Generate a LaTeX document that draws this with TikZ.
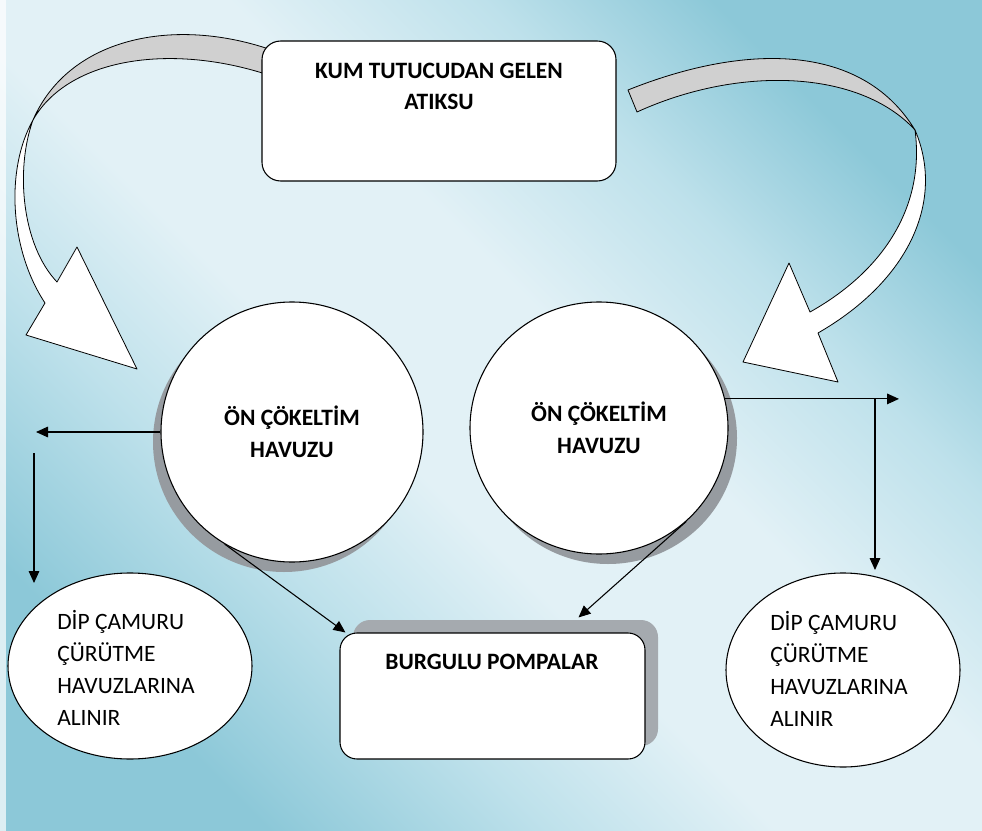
\documentclass[tikz,border=0pt]{standalone}
\usepackage{fontspec}
\setmainfont{Carlito}
\usetikzlibrary{arrows.meta,calc,positioning,shapes.geometric,shadows}

\definecolor{bgdark}{RGB}{140,200,216}
\definecolor{bgmid}{RGB}{190,225,235}
\definecolor{bglight}{RGB}{226,241,246}
\definecolor{ribbonback}{RGB}{208,208,208}
\definecolor{shadowgray}{RGB}{150,155,160}
\definecolor{pumpshadow}{RGB}{165,170,175}

% zemin için çapraz geçiş
\pgfdeclareverticalshading{backdrop}{100bp}{color(0bp)=(bgdark); color(25bp)=(bgdark);
  color(36bp)=(bgmid); color(45bp)=(bglight); color(56bp)=(bglight);
  color(66bp)=(bgmid); color(75bp)=(bgdark); color(100bp)=(bgdark)}

\tikzset{
  box/.style={draw=black, line width=0.8pt, fill=white, rounded corners=14pt},
  pool/.style={ellipse, draw=black, line width=0.8pt, fill=white, inner sep=0pt,
    align=center, font=\fontsize{17.6}{24}\selectfont\bfseries},
  sludge/.style={ellipse, draw=black, line width=0.8pt, fill=white, inner sep=0pt},
  label/.style={inner sep=0pt, font=\fontsize{17.6}{24}\selectfont},
  flow/.style={-{Triangle[length=9pt,width=8pt]}, line width=0.8pt},
  ribbon/.style={draw=black, line width=0.6pt, line join=round},
}

\begin{document}
\begin{tikzpicture}[x=0.75pt, y=-0.75pt]
  % zemin
  \shade[shading=backdrop, shading angle=-45] (0,0) rectangle (982,831);
  \fill[white, opacity=0.7] (0,0) rectangle (6,831);

  % kıvrık oklar: arka yüz (gri) ve ön yüz (beyaz)
  \draw[ribbon, fill=ribbonback] (280,53) .. controls (180,15) and (70,35) .. (33,120)
    .. controls (70,55) and (180,42) .. (280,79) -- cycle;
  \draw[ribbon, fill=white] (33,120) .. controls (5,170) and (10,250) .. (45,303)
    -- (26,335) -- (137,369) -- (77,247) -- (57,282)
    .. controls (22,245) and (15,170) .. (33,120) -- cycle;
  \draw[ribbon, fill=ribbonback] (628,90) .. controls (740,45) and (860,40) .. (915,130)
    .. controls (860,70) and (740,65) .. (637,112) -- cycle;
  \draw[ribbon, fill=white] (915,130) .. controls (945,200) and (910,280) .. (818,333)
    -- (838,382) -- (743,362) -- (789,263) -- (810,312)
    .. controls (885,270) and (925,205) .. (915,130) -- cycle;

  % giriş kutusu
  \node[box, minimum width=265.5pt, minimum height=105pt] (src) at (439,111) {};
  \node[label, font=\fontsize{17.6}{23.25}\selectfont\bfseries, align=center] (srctext)
    at (439,86) {KUM TUTUCUDAN GELEN\\ATIKSU};

  % ön çökeltim havuzları
  \node[pool, minimum width=196.5pt, minimum height=195pt,
    drop shadow={shadow xshift=-6pt, shadow yshift=-7.5pt, fill=shadowgray, opacity=1}]
    (c1) at (292,432) {ÖN ÇÖKELTİM\\HAVUZU};
  \node[pool, minimum width=193.5pt, minimum height=189pt,
    drop shadow={shadow xshift=6.75pt, shadow yshift=-7.5pt, fill=shadowgray, opacity=1}]
    (c2) at (599,428) {ÖN ÇÖKELTİM\\HAVUZU};

  % pompa kutusu
  \node[box, rounded corners=12.75pt, minimum width=228.75pt, minimum height=94.5pt,
    drop shadow={shadow xshift=9.75pt, shadow yshift=9.75pt, fill=pumpshadow, opacity=1}]
    (pump) at (492.5,696) {};
  \node[label, font=\fontsize{17.6}{24}\selectfont\bfseries] (pumptext) at (492,662)
    {BURGULU POMPALAR};

  % dip çamuru
  \node[sludge, minimum width=183pt, minimum height=139.5pt] (d1) at (130,666) {};
  \node[label, anchor=west, align=left] (d1text) at (57,668)
    {DİP ÇAMURU\\ÇÜRÜTME\\HAVUZLARINA\\ALINIR};
  \node[sludge, minimum width=175.5pt, minimum height=145.5pt] (d2) at (843,670) {};
  \node[label, anchor=west, align=left] (d2text) at (770,669)
    {DİP ÇAMURU\\ÇÜRÜTME\\HAVUZLARINA\\ALINIR};

  % akış çizgileri
  \coordinate (lout) at (36,432);
  \coordinate (ltop) at (34,453);
  \coordinate (lbot) at (34,583);
  \coordinate (rout) at (899,399);
  \coordinate (rdrop) at (875,570);
  \draw[flow] (c1.west) -- (c1.west -| lout);
  \draw[flow] (ltop) -- (lbot);
  \draw[flow] (c1.239) -- ($(pump.north west)+(6,0)$);
  \draw[flow] (c2.-47) -- ($(pump.north)+(86,-15)$);
  \draw[flow] (c2.13) -- (c2.13 -| rout);
  \draw[flow] (c2.13 -| rdrop) -- (rdrop);
\end{tikzpicture}
\end{document}
